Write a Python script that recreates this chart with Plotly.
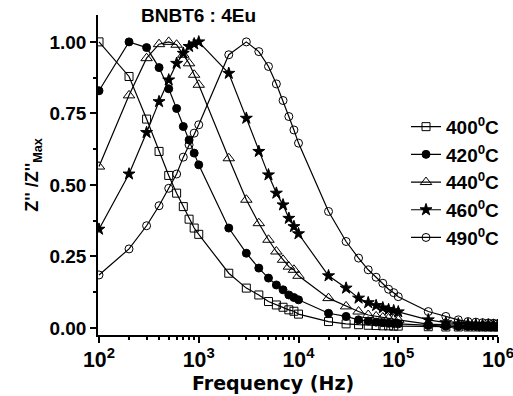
import plotly.graph_objects as go

freq = [100, 200, 300, 400, 500, 600, 700, 800, 900,
        1e3, 2e3, 3e3, 4e3, 5e3, 6e3, 7e3, 8e3, 9e3,
        1e4, 2e4, 3e4, 4e4, 5e4, 6e4, 7e4, 8e4, 9e4,
        1e5, 2e5, 3e5, 4e5, 5e5, 6e5, 7e5, 8e5, 9e5, 1e6]

t400 = [1.00, 0.879, 0.730, 0.617, 0.533, 0.471, 0.424, 0.380, 0.349,
        0.327, 0.191, 0.139, 0.115, 0.092, 0.080, 0.072, 0.063, 0.058,
        0.048, 0.022, 0.014, 0.011, 0.009, 0.008, 0.007, 0.007, 0.006,
        0.006, 0.004, 0.003, 0.003, 0.003, 0.003, 0.003, 0.003, 0.003, 0.003]
t420 = [0.829, 1.00, 0.980, 0.910, 0.836, 0.767, 0.704, 0.657, 0.611,
        0.570, 0.349, 0.261, 0.209, 0.174, 0.150, 0.133, 0.115, 0.106,
        0.098, 0.051, 0.040, 0.028, 0.024, 0.020, 0.018, 0.016, 0.015,
        0.014, 0.008, 0.006, 0.005, 0.005, 0.005, 0.004, 0.004, 0.004, 0.004]
t440 = [0.564, 0.813, 0.943, 0.992, 1.00, 0.990, 0.955, 0.925, 0.885,
        0.850, 0.593, 0.448, 0.366, 0.308, 0.267, 0.238, 0.214, 0.203,
        0.182, 0.104, 0.075, 0.057, 0.045, 0.040, 0.036, 0.033, 0.030,
        0.028, 0.013, 0.010, 0.008, 0.007, 0.007, 0.006, 0.006, 0.006, 0.005]
t460 = [0.345, 0.538, 0.683, 0.791, 0.867, 0.925, 0.960, 0.984, 0.993,
        1.00, 0.890, 0.733, 0.617, 0.535, 0.471, 0.430, 0.383, 0.354,
        0.329, 0.182, 0.139, 0.104, 0.088, 0.078, 0.070, 0.064, 0.060,
        0.056, 0.028, 0.018, 0.014, 0.012, 0.011, 0.010, 0.010, 0.009, 0.009]
t490 = [0.185, 0.276, 0.357, 0.427, 0.488, 0.538, 0.597, 0.640, 0.681,
        0.710, 0.955, 1.00, 0.966, 0.914, 0.853, 0.795, 0.739, 0.692,
        0.646, 0.407, 0.302, 0.244, 0.203, 0.177, 0.156, 0.135, 0.123,
        0.109, 0.057, 0.040, 0.028, 0.022, 0.020, 0.018, 0.017, 0.016, 0.015]

labels = ["400<sup>0</sup>C", "420<sup>0</sup>C", "440<sup>0</sup>C",
          "460<sup>0</sup>C", "490<sup>0</sup>C"]
y_tickvals = [0.0, 0.25, 0.5, 0.75, 1.0]
y_ticktext = ["0.00", "0.25", "0.50", "0.75", "1.00"]

series = [t400, t420, t440, t460, t490]
symbols = ["square-open", "circle", "triangle-up-open", "star", "circle-open"]
sizes = [8, 8, 10, 9, 8]

FONT = "Liberation Sans, Arial, sans-serif"

fig = go.Figure()
for i, (lab, ys) in enumerate(zip(labels, series)):
    fig.add_trace(go.Scatter(
        x=freq, y=ys, mode="lines+markers", name="<b>" + lab + "</b>",
        legendgroup=str(i),
        line=dict(color="black", width=1.2),
        marker=dict(symbol=symbols[i], size=sizes[i], color="black",
                    line=dict(color="black", width=1)),
    ))

fig.update_layout(
    width=513, height=396,
    margin=dict(l=98, r=15, t=15, b=61, autoexpand=False),
    paper_bgcolor="white", plot_bgcolor="white",
    font=dict(family=FONT, color="black"),
    showlegend=True,
    legend=dict(x=0.77, y=0.71, xanchor="left", yanchor="top",
                bgcolor="rgba(0,0,0,0)", tracegroupgap=0,
                font=dict(family=FONT, size=19, weight="bold"),
                itemwidth=30),
    annotations=[
        dict(text="<b>BNBT6 : 4Eu</b>", x=0.25, y=1.0, xref="paper",
             yref="paper", xanchor="center", yanchor="middle",
             showarrow=False, font=dict(family=FONT, size=19)),
        dict(text="<b>Frequency (Hz)</b>", x=0.4375, y=-0.15, xref="paper",
             yref="paper", xanchor="center", yanchor="middle",
             showarrow=False, font=dict(family="DejaVu Sans", size=19)),
    ],
)

fig.update_xaxes(
    type="log", range=[1.99, 6.0], dtick=1, exponentformat="power",
    automargin=False, ticklabeloverflow="allow",
    showgrid=False, zeroline=False, showline=True, linecolor="black",
    linewidth=1.5, ticks="outside", ticklen=6, tickwidth=1.5,
    tickcolor="black", tickfont=dict(family=FONT, size=17, weight="bold"),
    minor=dict(ticks="outside", ticklen=3, tickcolor="black", dtick="D1"),
)
fig.update_yaxes(
    range=[-0.025, 1.094],
    tickmode="array", tickvals=y_tickvals,
    ticktext=["<b>" + t + "</b>" for t in y_ticktext],
    automargin=False,
    showgrid=False, zeroline=False, showline=True, linecolor="black",
    linewidth=1.5, ticks="outside", ticklen=6, tickwidth=1.5,
    tickcolor="black", tickfont=dict(family=FONT, size=19),
    minor=dict(ticks="outside", ticklen=3, tickcolor="black", tick0=0, dtick=0.125),
    title=dict(text="<b>Z'' /Z''<sub>Max</sub></b>", font=dict(family=FONT, size=18),
               standoff=6),
)

fig.write_html("out.html")
